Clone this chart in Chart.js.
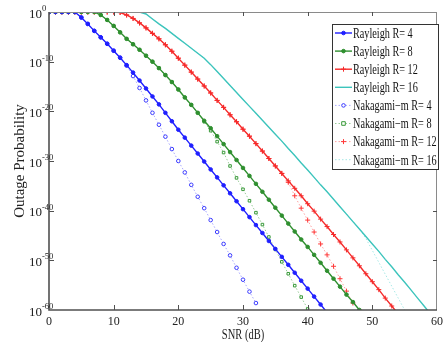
<!DOCTYPE html>
<html>
<head>
<meta charset="utf-8">
<script src="https://cdn.jsdelivr.net/npm/chart.js"></script>
<style>
  html, body { margin: 0; padding: 0; background: #fff; }
  #wrap { width: 448px; height: 342px; }
</style>
</head>
<body>
<div id="wrap"><canvas id="graph"></canvas></div>
<script>
// SNR in dB, one point per dB
const snr = [0,1,2,3,4,5,6,7,8,9,10,11,12,13,14,15,16,17,18,19,20,
  21,22,23,24,25,26,27,28,29,30,31,32,33,34,35,36,37,38,39,40,
  41,42,43,44,45,46,47,48,49,50,51,52,53,54,55,56,57,58,59,60];

// outage probability, as log10 values
const rayleigh4 = [0,0,0,0,0,-1.1,-2.4,-3.8,-5.1,-6.4,-7.8,-9.2,-10.7,-12.2,-13.8,-15.4,-17.0,-18.6,-20.3,-22.0,-23.7,
  -25.3,-26.9,-28.5,-30.1,-31.7,-33.3,-34.9,-36.5,-38.1,-39.7,-41.3,-42.9,-44.5,-46.1,-47.7,-49.3,-50.9,-52.5,-54.1,-55.7,
  -57.3,-58.9,-60.5];
const rayleigh8 = [0,0,0,0,0,0,0,0,-0.6,-1.6,-2.8,-4.1,-5.4,-6.5,-7.6,-8.8,-10.0,-11.3,-12.7,-14.1,-15.6,
  -17.2,-18.7,-20.3,-21.9,-23.4,-25.0,-26.6,-28.2,-29.8,-31.4,-33.0,-34.6,-36.2,-37.8,-39.4,-41.0,-42.6,-44.2,-45.8,-47.3,
  -48.9,-50.5,-52.1,-53.7,-55.3,-56.9,-58.4,-60.0];
const rayleigh12 = [0,0,0,0,0,0,0,0,0,0,0,-0.1,-0.6,-1.3,-2.2,-3.2,-4.3,-5.4,-6.6,-7.9,-9.3,
  -10.7,-12.1,-13.5,-14.9,-16.3,-17.8,-19.2,-20.7,-22.1,-23.6,-25.0,-26.5,-28.0,-29.5,-31.0,-32.5,-34.0,-35.5,-37.0,-38.6,
  -40.1,-41.7,-43.2,-44.8,-46.3,-47.9,-49.5,-51.1,-52.7,-54.3,-55.9,-57.6,-59.2,-60.8];
const rayleigh16 = [0,0,0,0,0,0,0,0,0,0,0,0,0,0,0,-0.4,-1.4,-2.4,-3.3,-4.3,-5.3,
  -6.3,-7.3,-8.3,-9.3,-10.6,-12.0,-13.4,-14.8,-16.2,-17.6,-19.0,-20.4,-21.8,-23.2,-24.6,-26.0,-27.5,-28.9,-30.4,-31.8,
  -33.3,-34.8,-36.2,-37.7,-39.2,-40.7,-42.2,-43.7,-45.2,-46.7,-48.2,-49.8,-51.3,-52.9,-54.4,-56.0,-57.6,-59.2,-60.8];
const nakagami4 = [0,0,0,0,0,-1.1,-2.4,-3.8,-5.1,-6.4,-7.8,-9.2,-10.8,-12.9,-15.3,-17.8,-20.3,-22.7,-25.1,-27.6,-30.0,
  -32.3,-34.8,-37.2,-39.5,-41.9,-44.3,-46.7,-49.0,-51.5,-53.9,-56.3,-58.6];
const nakagami8 = [0,0,0,0,0,0,0,0,-0.6,-1.6,-2.8,-4.1,-5.4,-6.5,-7.6,-8.8,-10.0,-11.3,-12.7,-14.1,-15.6,
  -17.2,-18.7,-20.3,-22.1,-23.9,-26.1,-28.3,-31.0,-33.4,-35.7,-38.0,-40.4,-42.8,-45.3,-47.8,-50.3,-52.7,-55.1,-57.4,-59.8];
const nakagami12 = [0,0,0,0,0,0,0,0,0,0,0,-0.1,-0.6,-1.3,-2.2,-3.2,-4.3,-5.4,-6.6,-7.9,-9.3,
  -10.7,-12.1,-13.5,-14.9,-16.3,-17.8,-19.2,-20.7,-22.1,-23.6,-25.0,-26.5,-28.0,-29.5,-31.0,-32.5,-34.3,-37.0,-39.5,-41.9,
  -44.3,-46.7,-48.9,-51.2,-53.7,-56.2,-58.6];
const nakagami16 = [0,0,0,0,0,0,0,0,0,0,0,0,0,0,0,-0.4,-1.4,-2.4,-3.3,-4.3,-5.3,
  -6.3,-7.3,-8.3,-9.3,-10.6,-12.0,-13.4,-14.8,-16.2,-17.6,-19.0,-20.4,-21.8,-23.2,-24.6,-26.0,-27.5,-28.9,-30.4,-31.8,
  -33.3,-34.8,-36.2,-37.7,-39.2,-40.7,-42.2,-43.7,-45.6,-48.0,-50.4,-52.8,-55.2,-57.6,-60.0];

const yDecades = [0, -10, -20, -30, -40, -50, -60];
const xTickValues = [10, 20, 30, 40, 50];
const labels = ['Rayleigh R= 4', 'Rayleigh R= 8', 'Rayleigh R= 12', 'Rayleigh R= 16',
  'Nakagami\u2212m R= 4', 'Nakagami\u2212m R= 8', 'Nakagami\u2212m R= 12', 'Nakagami\u2212m R= 16'];

const serif = '"Liberation Serif", "Times New Roman", serif';

const toPoints = exps => exps.map((e, i) => ({ x: snr[i], y: Math.pow(10, e) }));
// hide markers that fall below the bottom of the axis
const radius = r => ctx => (ctx.raw && ctx.raw.y < 0.99e-60 ? 0 : r);

const makeSet = (label, exps, o) => ({
  label: label,
  data: toPoints(exps),
  borderColor: o.line,
  borderWidth: o.width || 1.4,
  borderDash: o.dash || [],
  pointStyle: o.marker || 'circle',
  pointRadius: o.marker ? radius(o.size) : 0,
  pointHoverRadius: 0,
  pointBorderColor: o.mark,
  pointBackgroundColor: o.fill,
  pointBorderWidth: 1,
  markerSize: o.size || 0,
  tension: 0,
  fill: false,
});

function drawMarker(ctx, style, x, y, r, color, fill) {
  ctx.save();
  ctx.setLineDash([]);
  ctx.lineWidth = 1;
  ctx.strokeStyle = color;
  ctx.fillStyle = fill;
  ctx.beginPath();
  if (style === 'circle') {
    ctx.arc(x, y, r, 0, Math.PI * 2);
    ctx.fill();
    ctx.stroke();
  } else if (style === 'rect') {
    ctx.rect(x - r, y - r, 2 * r, 2 * r);
    ctx.fill();
    ctx.stroke();
  } else if (style === 'cross') {
    ctx.moveTo(x - r, y); ctx.lineTo(x + r, y);
    ctx.moveTo(x, y - r); ctx.lineTo(x, y + r);
    ctx.stroke();
  }
  ctx.restore();
}

function squeezeText(ctx, text, x, y, sx) {
  ctx.save();
  ctx.translate(x, y);
  ctx.scale(sx, 1);
  ctx.fillText(text, 0, 0);
  ctx.restore();
}

const framePlugin = {
  id: 'frame',
  afterDraw(chart) {
    const ctx = chart.ctx;
    const a = chart.chartArea;
    const xs = chart.scales.x;
    const ys = chart.scales.y;

    ctx.save();
    // box round the plot
    ctx.strokeStyle = '#8a8a8a';
    ctx.lineWidth = 1;
    ctx.beginPath();
    ctx.moveTo(a.left, a.top + 0.5); ctx.lineTo(a.right, a.top + 0.5);
    ctx.moveTo(a.right - 0.5, a.top); ctx.lineTo(a.right - 0.5, a.bottom);
    ctx.stroke();
    ctx.strokeStyle = '#505050';
    ctx.lineWidth = 1.6;
    ctx.beginPath();
    ctx.moveTo(a.left, a.top); ctx.lineTo(a.left, a.bottom); ctx.lineTo(a.right, a.bottom);
    ctx.stroke();

    // inward ticks
    ctx.lineWidth = 1;
    ctx.strokeStyle = '#505050';
    ctx.beginPath();
    xTickValues.forEach(v => {
      const px = Math.round(xs.getPixelForValue(v)) + 0.5;
      ctx.moveTo(px, a.bottom); ctx.lineTo(px, a.bottom - 5);
      ctx.moveTo(px, a.top); ctx.lineTo(px, a.top + 4);
    });
    yDecades.slice(1, -1).forEach(e => {
      const py = Math.round(ys.getPixelForValue(Math.pow(10, e))) + 0.5;
      ctx.moveTo(a.left, py); ctx.lineTo(a.left + 5, py);
      ctx.moveTo(a.right, py); ctx.lineTo(a.right - 4, py);
    });
    ctx.stroke();

    // y tick labels 10^n
    ctx.fillStyle = '#222';
    yDecades.forEach(e => {
      const py = ys.getPixelForValue(Math.pow(10, e));
      ctx.font = '13px ' + serif;
      ctx.textAlign = 'right';
      ctx.textBaseline = 'alphabetic';
      ctx.fillText('10', 42, py + 5.5);
      ctx.font = '8.5px ' + serif;
      ctx.textAlign = 'left';
      ctx.fillText(String(e), 42, py - 1);
    });

    // axis titles
    ctx.font = '15px ' + serif;
    ctx.textAlign = 'center';
    ctx.textBaseline = 'middle';
    ctx.save();
    ctx.translate(20, (a.top + a.bottom) / 2);
    ctx.rotate(-Math.PI / 2);
    ctx.fillText('Outage Probability', 0, 0);
    ctx.restore();
    ctx.font = '14px ' + serif;
    ctx.textBaseline = 'alphabetic';
    squeezeText(ctx, 'SNR (dB)', (a.left + a.right) / 2, 339, 0.75);

    // legend box
    const bx = 332, by = 24, bw = 106, bh = 145;
    ctx.fillStyle = '#fff';
    ctx.fillRect(bx, by, bw, bh);
    ctx.strokeStyle = '#333';
    ctx.lineWidth = 1;
    ctx.strokeRect(bx + 0.5, by + 0.5, bw, bh);
    chart.data.datasets.forEach((ds, i) => {
      const ly = 33 + i * 18.1;
      ctx.save();
      ctx.strokeStyle = ds.borderColor;
      ctx.lineWidth = ds.borderWidth;
      ctx.setLineDash(ds.borderDash);
      ctx.beginPath();
      ctx.moveTo(335, ly); ctx.lineTo(352, ly);
      ctx.stroke();
      ctx.restore();
      if (ds.markerSize) {
        drawMarker(ctx, ds.pointStyle, 343.5, ly, ds.markerSize, ds.pointBorderColor, ds.pointBackgroundColor);
      }
      ctx.fillStyle = '#111';
      ctx.font = '14px ' + serif;
      ctx.textAlign = 'left';
      ctx.textBaseline = 'alphabetic';
      squeezeText(ctx, ds.label, 353, ly + 4.8, 0.73);
    });
    ctx.restore();
  }
};

const ctx = document.getElementById('graph').getContext('2d');

new Chart(ctx, {
  type: 'line',
  data: {
    datasets: [
      makeSet(labels[0], rayleigh4, { line: '#1f1fff', mark: '#1f1fff', fill: '#1f1fff', marker: 'circle', size: 1.8 }),
      makeSet(labels[1], rayleigh8, { line: '#2f8f2f', mark: '#2f8f2f', fill: '#2f8f2f', marker: 'circle', size: 1.8 }),
      makeSet(labels[2], rayleigh12, { line: '#f52a2a', mark: '#f52a2a', fill: '#f52a2a', marker: 'cross', size: 2.5 }),
      makeSet(labels[3], rayleigh16, { line: '#3cc4bc' }),
      makeSet(labels[4], nakagami4, { line: '#a8a8ff', mark: '#3a3aff', fill: '#fff', marker: 'circle', size: 1.8, dash: [1.5, 2], width: 1 }),
      makeSet(labels[5], nakagami8, { line: '#98cc98', mark: '#3a9a3a', fill: '#fff', marker: 'rect', size: 1.8, dash: [1.5, 2], width: 1 }),
      makeSet(labels[6], nakagami12, { line: '#ffa0a0', mark: '#ff3a3a', fill: '#ff3a3a', marker: 'cross', size: 2.5, dash: [1.5, 2], width: 1 }),
      makeSet(labels[7], nakagami16, { line: '#a6e8e6', dash: [1.5, 2], width: 1 }),
    ],
  },
  options: {
    responsive: true,
    maintainAspectRatio: false,
    animation: false,
    layout: { padding: { top: 12, right: 4, left: 0, bottom: 0 } },
    plugins: {
      legend: { display: false },
      tooltip: { enabled: false },
    },
    scales: {
      x: {
        type: 'linear',
        min: 0,
        max: 60,
        ticks: {
          stepSize: 10,
          padding: 5,
          color: '#222',
          font: { family: serif, size: 12 },
        },
        grid: { display: false, drawTicks: false },
        border: { display: false },
        afterFit: s => { s.height = 32; },
      },
      y: {
        type: 'logarithmic',
        min: 1e-60,
        max: 1,
        ticks: { display: false },
        grid: { display: false, drawTicks: false },
        border: { display: false },
        afterBuildTicks: s => { s.ticks = yDecades.map(e => ({ value: Math.pow(10, e) })); },
        afterFit: s => { s.width = 49; },
      },
    },
  },
  plugins: [framePlugin],
});
</script>
</body>
</html>
